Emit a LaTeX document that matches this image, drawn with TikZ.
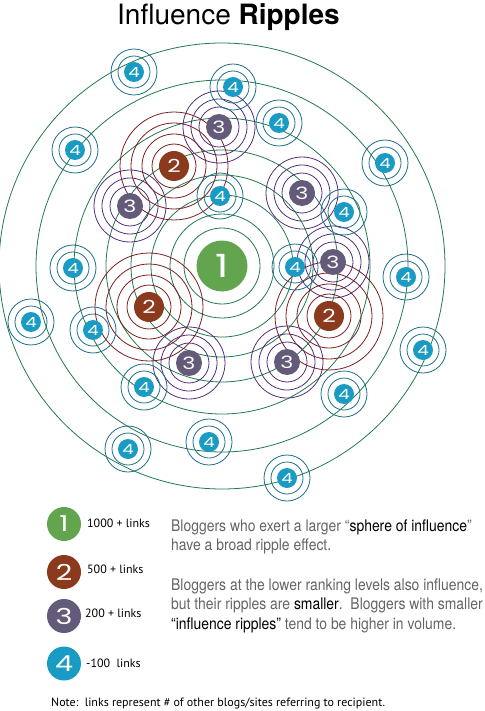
\documentclass[tikz,border=0pt]{standalone}
\usepackage{fontspec}
\setmainfont{TeX Gyre Heros}
\newfontfamily\digitfont{Poppins}[FakeStretch=1.3]
\newfontfamily\legendfont{PT Sans}
\newfontfamily\narrowfont{TeX Gyre Heros}[FakeStretch=0.87]
\definecolor{ringG}{RGB}{34,122,78}
\definecolor{discA}{RGB}{98,165,78}
\definecolor{discB}{RGB}{139,58,30}
\definecolor{ringB}{RGB}{125,30,30}
\definecolor{discC}{RGB}{100,90,122}
\definecolor{ringC}{RGB}{85,45,125}
\definecolor{discD}{RGB}{26,155,196}
\definecolor{ringD}{RGB}{30,110,140}
\definecolor{txtgray}{RGB}{100,100,100}
\begin{document}
\begin{tikzpicture}[x=1pt,y=-1pt,
  disc/.style={circle,inner sep=0pt,text=white},
  dA/.style={disc,fill=discA,minimum size=51pt,font=\digitfont\fontsize{32}{32}\selectfont},
  dB/.style={disc,fill=discB,minimum size=30pt,font=\digitfont\fontsize{18}{18}\selectfont},
  dC/.style={disc,fill=discC,minimum size=26pt,font=\digitfont\fontsize{17}{17}\selectfont},
  dD/.style={disc,fill=discD,minimum size=20pt,font=\digitfont\fontsize{14}{14}\selectfont},
  lg/.style={disc,minimum size=34pt,font=\digitfont\fontsize{22}{22}\selectfont},
  rA/.style={draw=ringG,line width=0.8pt},
  rB/.style={draw=ringB,line width=0.8pt},
  rC/.style={draw=ringC,line width=0.8pt},
  rD/.style={draw=ringD,line width=0.8pt},
  legtext/.style={anchor=base west,inner sep=0pt,font=\legendfont\fontsize{12}{12}\selectfont},
  para/.style={anchor=base west,inner sep=0pt,text=txtgray,font=\narrowfont\fontsize{16}{16}\selectfont}
]
\useasboundingbox (0,0) rectangle (484,711);

% centres
\coordinate (c1) at (222,266);
\foreach \n/\x/\y in {b1/174/166,b2/149/307,b3/329/316}
  \coordinate (\n) at (\x,\y);
\foreach \n/\x/\y in {p1/219/127,p2/130/206,p3/302/193,p4/333/262,p5/189/363,p6/287/362}
  \coordinate (\n) at (\x,\y);
\foreach \n/\x/\y in {q1/134/72,q2/233/87,q3/75/150,q4/279/123,q5/385/163,q6/220/196,q7/344/212,q8/73/268,q9/295/267,q10/406/277,q11/31/322,q12/93/330,q13/423/350,q14/144/387,q15/344/394,q16/209/442,q17/128/449,q18/287/478}
  \coordinate (\n) at (\x,\y);

% ripples
\foreach \r in {38,52,71,91,116,148,186,223}
  \draw[rA] (c1) circle[radius=\r pt];
\foreach \n in {b1,b2,b3}
  \foreach \r in {22,32,43,54}
    \draw[rB] (\n) circle[radius=\r pt];
\foreach \n in {p1,p2,p3,p4,p5,p6}
  \foreach \r in {20,28,36}
    \draw[rC] (\n) circle[radius=\r pt];
\foreach \n in {q1,q2,q3,q4,q5,q6,q7,q8,q9,q10,q11,q12,q13,q14,q15,q16,q17,q18}
  \foreach \r in {16,23}
    \draw[rD] (\n) circle[radius=\r pt];

% discs
\node[dA] (n1) at (c1) {1};
\foreach \n in {b1,b2,b3}
  \node[dB] (n\n) at (\n) {2};
\foreach \n in {p1,p2,p3,p4,p5,p6}
  \node[dC] (n\n) at (\n) {3};
\foreach \n in {q1,q2,q3,q4,q5,q6,q7,q8,q9,q10,q11,q12,q13,q14,q15,q16,q17,q18}
  \node[dD] (n\n) at (\n) {4};

% title
\node[anchor=base west,inner sep=0pt,font=\fontsize{28}{28}\selectfont] (title) at (117,25) {Influence \textbf{Ripples}};

% legend
\node[lg,fill=discA] (l1) at (64,524) {1};
\node[lg,fill=discB] (l2) at (64,572) {2};
\node[lg,fill=discC] (l3) at (64,616) {3};
\node[lg,fill=discD] (l4) at (64,663.5) {4};
\node[legtext] (t1) at (87,527) {1000 + links};
\node[legtext] (t2) at (87,573) {500 + links};
\node[legtext] (t3) at (85,617) {200 + links};
\node[legtext] (t4) at (86,667) {-100\ \ links};

% explanation
\node[para] (e1) at (171,531) {Bloggers who exert a larger “\textcolor{black}{sphere of influence}”};
\node[para] (e2) at (171,550) {have a broad ripple effect.};
\node[para] (e3) at (171,590) {Bloggers at the lower ranking levels also influence,};
\node[para] (e4) at (171,609.5) {but their ripples are \textcolor{black}{smaller}.\ \ Bloggers with smaller};
\node[para] (e5) at (171,629) {\textcolor{black}{“influence ripples”} tend to be higher in volume.};

\node[legtext] (note) at (51,706) {Note:\ \ links represent \# of other blogs/sites referring to recipient.};
\end{tikzpicture}
\end{document}
